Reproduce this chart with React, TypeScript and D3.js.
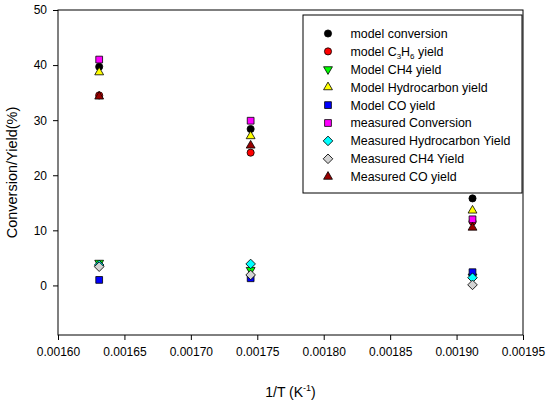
import React, { useEffect, useRef } from 'react';
import * as d3 from 'd3';

// 1/T values for the three temperatures
const invTemp = [0.001631, 0.001745, 0.001912];

// series values (%)
const modelConversion = [39.7, 28.4, 15.8];
const modelC3H6 = [34.5, 24.1, 11.6];
const modelCH4 = [4.1, 2.8, 1.6];
const modelHydrocarbon = [38.7, 27.1, 13.6];
const modelCO = [1.0, 1.3, 2.4];
const measuredConversion = [41.0, 29.9, 12.0];
const measuredHydrocarbon = [3.7, 3.9, 1.4];
const measuredCH4 = [3.4, 1.9, 0.1];
const measuredCO = [34.3, 25.4, 10.5];

const xTicks = [0.0016, 0.00165, 0.0017, 0.00175, 0.0018, 0.00185, 0.0019, 0.00195];
const yTicks = [0, 10, 20, 30, 40, 50];

type Shape = 'circle' | 'triDown' | 'triUp' | 'square' | 'diamond';
interface Series { label: string; values: number[]; shape: Shape; fill: string; sub?: boolean }

const series: Series[] = [
  { label: 'model conversion', values: modelConversion, shape: 'circle', fill: '#000000' },
  { label: 'model C3H6 yield', values: modelC3H6, shape: 'circle', fill: '#ff0000', sub: true },
  { label: 'Model CH4 yield', values: modelCH4, shape: 'triDown', fill: '#00ff00' },
  { label: 'Model Hydrocarbon yield', values: modelHydrocarbon, shape: 'triUp', fill: '#ffff00' },
  { label: 'Model CO yield', values: modelCO, shape: 'square', fill: '#0000ff' },
  { label: 'measured Conversion', values: measuredConversion, shape: 'square', fill: '#ff00ff' },
  { label: 'Measured Hydrocarbon Yield', values: measuredHydrocarbon, shape: 'diamond', fill: '#00ffff' },
  { label: 'Measured CH4 Yield', values: measuredCH4, shape: 'diamond', fill: '#d3d3d3' },
  { label: 'Measured CO yield', values: measuredCO, shape: 'triUp', fill: '#990000' },
];

const symbolPath = (shape: Shape) => {
  if (shape === 'circle') return d3.symbol(d3.symbolCircle, 40)();
  if (shape === 'square' || shape === 'diamond') return d3.symbol(d3.symbolSquare, 46)();
  return d3.symbol(d3.symbolTriangle, 34)();
};
const symbolRotate = (shape: Shape) => (shape === 'triDown' ? 180 : shape === 'diamond' ? 45 : 0);

const App: React.FC = () => {
  const svgRef = useRef<SVGSVGElement>(null);

  useEffect(() => {
    const W = 550, H = 401;
    const m = { left: 58, right: 27, top: 10, bottom: 66 };
    const font = 'Arial, "Liberation Sans", sans-serif';

    const x = d3.scaleLinear().domain([0.0016, 0.00195]).range([m.left, W - m.right]);
    const y = d3.scaleLinear().domain([-9, 50]).range([H - m.bottom, m.top]);

    const svg = d3.select(svgRef.current).attr('width', W).attr('height', H).html('');
    svg.append('rect').attr('width', W).attr('height', H).attr('fill', '#fff');

    // frame
    svg.append('rect')
      .attr('x', m.left).attr('y', m.top)
      .attr('width', W - m.right - m.left).attr('height', H - m.bottom - m.top)
      .attr('fill', 'none').attr('stroke', '#000').attr('stroke-width', 1);

    const xAxis = svg.append('g')
      .attr('transform', `translate(0,${H - m.bottom})`)
      .call(d3.axisBottom(x).tickValues(xTicks).tickFormat(d3.format('.5f')).tickSize(5).tickPadding(7));
    const yAxis = svg.append('g')
      .attr('transform', `translate(${m.left},0)`)
      .call(d3.axisLeft(y).tickValues(yTicks).tickSize(5).tickPadding(6));
    [xAxis, yAxis].forEach(a => {
      a.select('.domain').remove();
      a.selectAll('text').attr('font-size', 12).attr('font-family', font).attr('fill', '#000');
      a.selectAll('line').attr('stroke', '#000');
    });

    // axis titles
    const xt = svg.append('text')
      .attr('x', (m.left + W - m.right) / 2).attr('y', 397)
      .attr('text-anchor', 'middle').attr('font-size', 14).attr('font-family', font);
    xt.append('tspan').text('1/T (K');
    xt.append('tspan').text('-1').attr('font-size', 9).attr('dy', -6);
    xt.append('tspan').text(')').attr('dy', 6);

    svg.append('text')
      .attr('transform', `translate(17,${(m.top + H - m.bottom) / 2}) rotate(-90)`)
      .attr('text-anchor', 'middle').attr('font-size', 14.5).attr('font-family', font)
      .text('Conversion/Yield(%)');

    // markers
    series.forEach(s => {
      svg.append('g').selectAll('path')
        .data(s.values).enter().append('path')
        .attr('d', symbolPath(s.shape))
        .attr('transform', (d, i) => `translate(${x(invTemp[i])},${y(d)}) rotate(${symbolRotate(s.shape)})`)
        .attr('fill', s.fill).attr('stroke', '#000').attr('stroke-width', 0.8);
    });

    // legend
    const lg = svg.append('g');
    lg.append('rect')
      .attr('x', 303).attr('y', 15).attr('width', 219).attr('height', 178)
      .attr('fill', '#fff').attr('stroke', '#000').attr('stroke-width', 1);
    const row = d3.scaleLinear().domain([0, 8]).range([33.5, 176.7]);
    series.forEach((s, i) => {
      lg.append('path')
        .attr('d', symbolPath(s.shape))
        .attr('transform', `translate(328,${row(i)}) rotate(${symbolRotate(s.shape)})`)
        .attr('fill', s.fill).attr('stroke', '#000').attr('stroke-width', 0.8);
      const t = lg.append('text')
        .attr('x', 350.5).attr('y', row(i) + 4.4)
        .attr('font-size', 12.4).attr('font-family', font);
      if (s.sub) {
        t.append('tspan').text('model C');
        t.append('tspan').text('3').attr('font-size', 8).attr('dy', 3);
        t.append('tspan').text('H').attr('dy', -3);
        t.append('tspan').text('6').attr('font-size', 8).attr('dy', 3);
        t.append('tspan').text(' yield').attr('dy', -3);
      } else {
        t.text(s.label);
      }
    });
  }, []);

  return (
    <div style={{ position: 'absolute', left: 0, top: 0 }}>
      <svg ref={svgRef} style={{ display: 'block' }} />
    </div>
  );
};

export default App;
